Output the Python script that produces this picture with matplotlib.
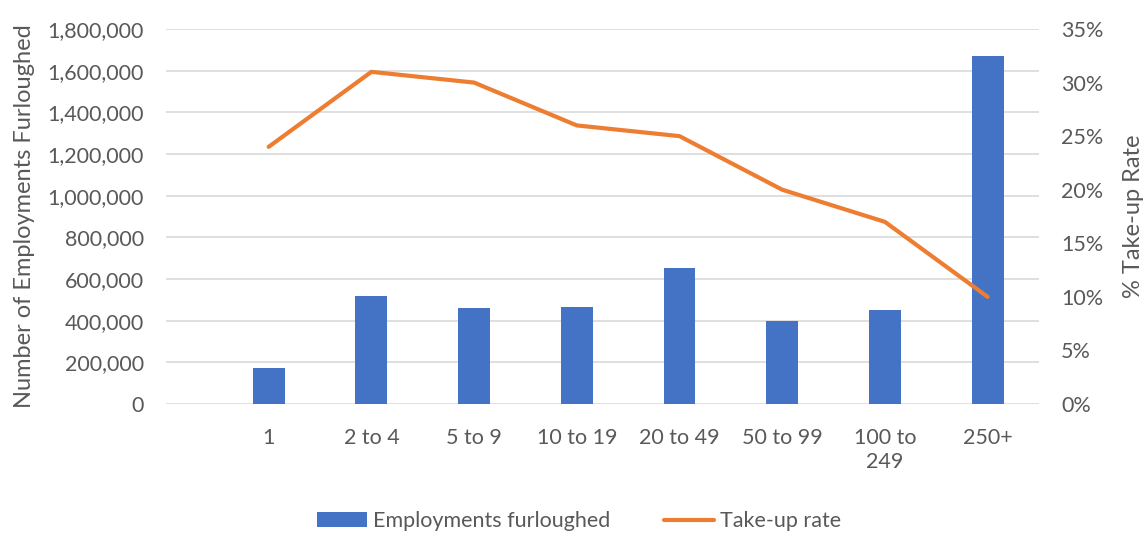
import matplotlib.pyplot as plt
from matplotlib.ticker import FuncFormatter, MultipleLocator

plt.rcParams['font.family'] = ['Lato', 'DejaVu Sans']

categories = ['1', '2 to 4', '5 to 9', '10 to 19', '20 to 49', '50 to 99', '100 to\n249', '250+']
furloughed = [173000, 520000, 460000, 467000, 652000, 396000, 451000, 1672000]
take_up = [24, 31, 30, 26, 25, 20, 17, 10]

grey = '#595959'
fig, ax = plt.subplots(figsize=(11.47, 5.36), dpi=100)
fig.subplots_adjust(left=0.1447, right=0.9058, top=0.9459, bottom=0.2463)

x = list(range(len(categories)))
bars = ax.bar(x, furloughed, width=0.31, color='#4472C4', label='Employments furloughed', zorder=2)
ax.set_ylim(0, 1800000)
ax.set_xlim(-1, 7.5)
ax.yaxis.set_major_locator(MultipleLocator(200000))
ax.yaxis.set_major_formatter(FuncFormatter(lambda v, p: f'{int(v):,}'))
ax.grid(axis='y', color='#D9D9D9', linewidth=1.2, zorder=0)
ax.set_axisbelow(True)
ax.set_xticks(x)
ax.set_xticklabels(categories, va='top', linespacing=1.25)
for s in ax.spines.values():
    s.set_visible(False)
ax.tick_params(axis='both', length=0, labelsize=15.5, colors=grey)
ax.tick_params(axis='y', pad=16)
ax.tick_params(axis='x', pad=17)
ax.set_ylabel('Number of Employments Furloughed', fontsize=17, color=grey, labelpad=9)

ax2 = ax.twinx()
line, = ax2.plot(x, take_up, color='#ED7D31', linewidth=3, solid_capstyle='round',
                 label='Take-up rate', zorder=3)
ax2.set_ylim(0, 35)
ax2.yaxis.set_major_locator(MultipleLocator(5))
ax2.yaxis.set_major_formatter(FuncFormatter(lambda v, p: f'{int(v)}%'))
for s in ax2.spines.values():
    s.set_visible(False)
ax2.tick_params(axis='y', length=0, labelsize=15.5, colors=grey, pad=16)
ax2.set_ylabel('% Take-up Rate', fontsize=17, color=grey, labelpad=14)

fig.legend([bars, line], ['Employments furloughed', 'Take-up rate'], loc='lower center',
           bbox_to_anchor=(0.505, -0.027), ncol=2, frameon=False, fontsize=15.5,
           labelcolor=grey, handlelength=2.3, handleheight=0.65, columnspacing=2.5,
           handletextpad=0.3)

fig.savefig('out.png', dpi=100)
